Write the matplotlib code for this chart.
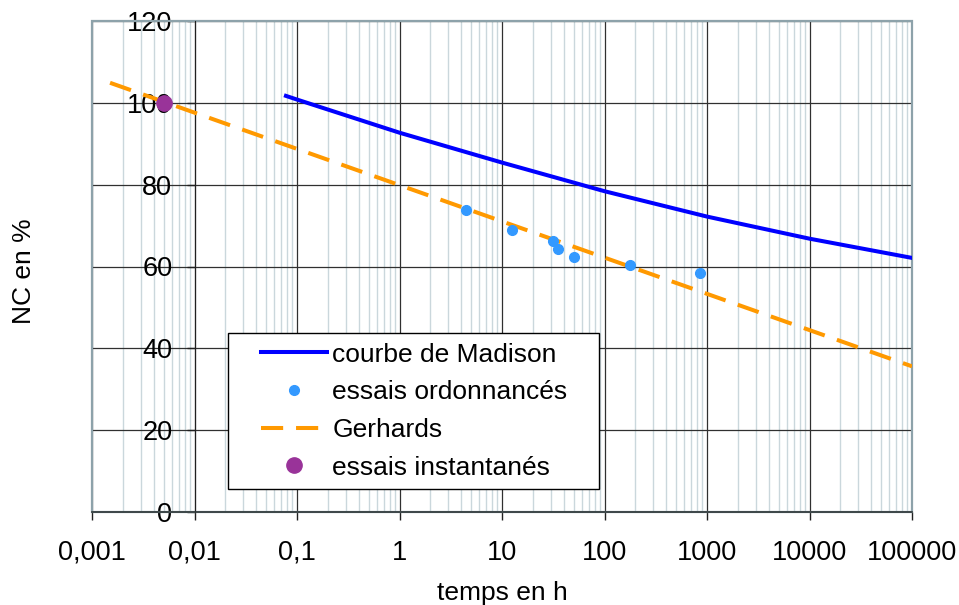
# -*- coding: utf-8 -*-
import matplotlib
matplotlib.use('Agg')
import matplotlib.pyplot as plt
from matplotlib.patches import Rectangle
from matplotlib.lines import Line2D
from matplotlib.legend_handler import HandlerLine2D
from matplotlib.ticker import FixedLocator, FixedFormatter, LogLocator, NullFormatter

# courbe de Madison (temps en h, NC en %)
madison_t = [0.078, 0.1, 1, 10, 100, 1000, 10000, 100000]
madison_nc = [101.7, 100.8, 92.7, 85.4, 78.4, 72.2, 66.8, 62.1]

# essais ordonnancés
essais_t = [4.46, 12.6, 31.5, 35.2, 50.4, 176, 855]
essais_nc = [73.8, 69.0, 66.3, 64.3, 62.3, 60.4, 58.3]

# Gerhards (droite en log)
gerhards_t = [0.0015, 100000]
gerhards_nc = [104.9, 35.6]

# essais instantanés
inst_t = [0.005]
inst_nc = [100.0]

xticks = [0.001, 0.01, 0.1, 1, 10, 100, 1000, 10000, 100000]
xticklabels = ['0,001', '0,01', '0,1', '1', '10', '100', '1000', '10000', '100000']
yticks = [0, 20, 40, 60, 80, 100, 120]

plt.rcParams['font.family'] = ['Liberation Sans', 'DejaVu Sans']

fig = plt.figure(figsize=(9.59, 6.05), dpi=100)
fig.patch.set_facecolor('white')
ax = fig.add_axes([92/959, 1 - 512/605, 820/959, 491/605])

ax.plot(madison_t, madison_nc, c='#0000FF', lw=2.9, label=u'courbe de Madison', zorder=4)
ax.plot(essais_t, essais_nc, ls='none', marker='o', ms=7, c='#3399FF', label=u'essais ordonnancés', zorder=5)
ax.plot(gerhards_t, gerhards_nc, c='#FF9900', lw=2.9, dashes=(5.5, 3.2), label=u'Gerhards', zorder=3)
ax.plot(inst_t, inst_nc, ls='none', marker='o', ms=11, c='#993399', label=u'essais instantanés', zorder=5)

ax.set_xscale('log')
ax.set_xlim(0.001, 100000)
ax.set_ylim(0, 120)

ax.xaxis.set_major_locator(FixedLocator(xticks))
ax.xaxis.set_major_formatter(FixedFormatter(xticklabels))
ax.xaxis.set_minor_locator(LogLocator(base=10, subs=range(2, 10), numticks=20))
ax.xaxis.set_minor_formatter(NullFormatter())
ax.set_yticks(yticks)

ax.grid(which='major', color='#303030', lw=0.9)
ax.grid(which='minor', axis='x', color='#CAD7DC', lw=1.0)
ax.set_axisbelow(True)

# axe vertical qui coupe en 0,01
for s in ['top', 'right']:
    ax.spines[s].set_visible(False)
ax.spines['left'].set_position(('data', 0.01))
ax.spines['left'].set_color('#202020')
ax.spines['bottom'].set_color('#303838')
ax.spines['bottom'].set_linewidth(1.2)
ax.add_patch(Rectangle((0, 0), 1, 1, transform=ax.transAxes, fill=False,
                       edgecolor='#8DA2AA', lw=1.6, clip_on=False, zorder=2))

ax.tick_params(axis='both', which='major', labelsize=19.5, direction='out', length=6, width=1, color='#202020')
ax.tick_params(axis='x', pad=14)
ax.tick_params(axis='y', pad=10)
ax.tick_params(which='minor', length=0)

ax.set_xlabel('temps en h', fontsize=19, labelpad=11)
ax.set_ylabel('NC en %', fontsize=19)
ax.yaxis.set_label_coords(-0.068, 0.49)

leg = ax.legend(loc='lower left', bbox_to_anchor=(0.166, 0.047, 0.452, 0.3), mode='expand',
                fontsize=19, frameon=True, fancybox=False, edgecolor='black', framealpha=1,
                handlelength=3.4, handletextpad=0.2, labelspacing=0.52,
                borderpad=0.35, borderaxespad=0,
                handler_map={Line2D: HandlerLine2D(xpad=0.9)})
leg.get_frame().set_linewidth(1.0)
leg.set_zorder(10)

plt.savefig('out.png', dpi=100)
plt.close(fig)
